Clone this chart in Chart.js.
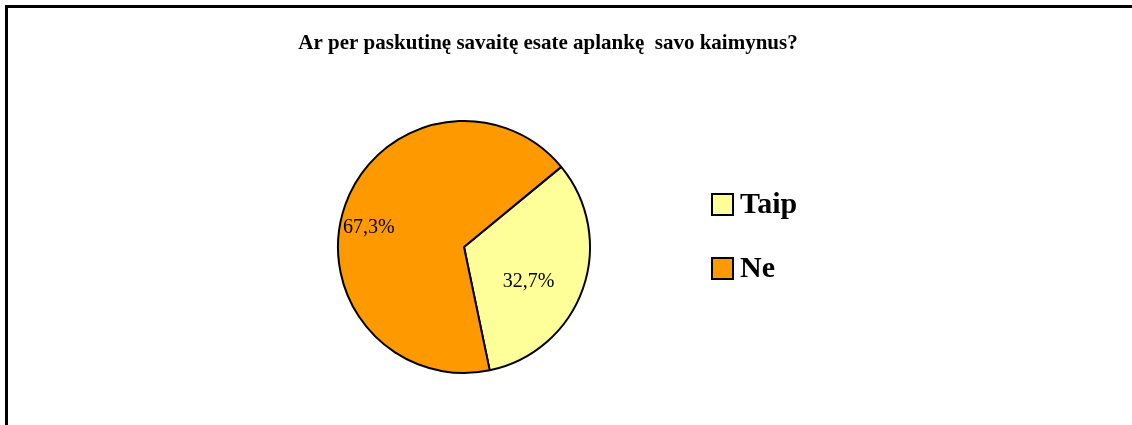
<!DOCTYPE html>
<html>
<head>
<meta charset="utf-8">
<script src="https://cdn.jsdelivr.net/npm/chart.js@4"></script>
<style>
    html, body { margin: 0; padding: 0; background: #fff; overflow: hidden; }
    #frame {
        position: absolute; left: 5px; top: 5px; width: 1200px; height: 500px;
        border-top: 3px solid #000; border-left: 3px solid #000;
    }
    #wrap { position: absolute; left: 0; top: 0; width: 1132px; height: 425px; }
</style>
</head>
<body>
<div id="frame"></div>
<div id="wrap"><canvas id="pieChart"></canvas></div>
<script>
const chartTitle = "Ar per paskutinę savaitę esate aplankę  savo kaimynus?";
const categories = ["Taip", "Ne"];
const shares = [32.7, 67.3];
const sliceColors = ["#FFFF99", "#FF9900"];
const labelDistance = [0.58, 0.77];
const labelAngleShift = [8.6, -8.1];

document.addEventListener("DOMContentLoaded", () => {
    const canvas = document.getElementById("pieChart");

    // title, legend and value labels drawn by hand to match the Excel layout
    const extras = {
        id: "extras",
        afterDraw(chart) {
            const ctx = chart.ctx;
            ctx.save();
            ctx.fillStyle = "#000";
            ctx.textAlign = "center";
            ctx.textBaseline = "middle";
            ctx.font = "bold 21px 'Liberation Serif', 'Times New Roman', serif";
            ctx.fillText(chartTitle, 548, 44);

            const meta = chart.getDatasetMeta(0);
            ctx.font = "20px 'Liberation Serif', 'Times New Roman', serif";
            meta.data.forEach((arc, i) => {
                const mid = (arc.startAngle + arc.endAngle) / 2 + labelAngleShift[i] * Math.PI / 180;
                const r = arc.outerRadius * labelDistance[i];
                const text = shares[i].toFixed(1).replace(".", ",") + "%";
                ctx.fillText(text, arc.x + Math.cos(mid) * r, arc.y + Math.sin(mid) * r);
            });

            ctx.textAlign = "left";
            ctx.font = "bold 30px 'Liberation Serif', 'Times New Roman', serif";
            categories.forEach((name, i) => {
                const y = 204 + i * 64;
                ctx.fillStyle = sliceColors[i];
                ctx.fillRect(712, y - 10, 21, 21);
                ctx.lineWidth = 2;
                ctx.strokeStyle = "#000";
                ctx.strokeRect(712, y - 10, 21, 21);
                ctx.fillStyle = "#000";
                ctx.fillText(name, 740, y + 1);
            });
            ctx.restore();
        }
    };

    new Chart(canvas, {
        type: "pie",
        data: {
            labels: categories,
            datasets: [{
                data: shares,
                backgroundColor: sliceColors,
                borderColor: "#000",
                borderWidth: 2
            }]
        },
        options: {
            responsive: true,
            maintainAspectRatio: false,
            animation: false,
            rotation: 50.5,
            layout: {
                padding: { left: 336, top: 120, right: 540, bottom: 51 }
            },
            plugins: {
                legend: { display: false },
                title: { display: false },
                tooltip: { enabled: false }
            }
        },
        plugins: [extras]
    });
});
</script>
</body>
</html>
